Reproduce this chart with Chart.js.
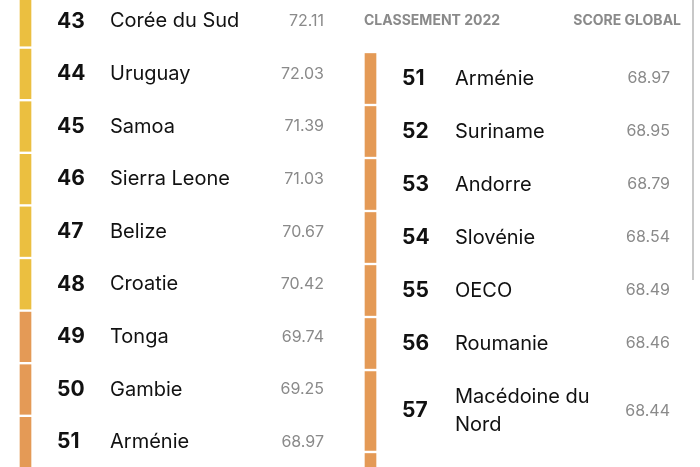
<!DOCTYPE html>
<html><head><meta charset="utf-8">
<script src="https://cdn.jsdelivr.net/npm/chart.js@4/dist/chart.umd.min.js"></script>
<style>html,body{margin:0;padding:0;background:#fff}#c{display:block}</style>
</head><body>
<div style="width:700px;height:467px"><canvas id="c"></canvas></div>
<script>
const leftRanks = [43,44,45,46,47,48,49,50,51];
const leftCountries = ["Corée du Sud","Uruguay","Samoa","Sierra Leone","Belize","Croatie","Tonga","Gambie","Arménie"];
const leftScores = [72.11,72.03,71.39,71.03,70.67,70.42,69.74,69.25,68.97];
const rightRanks = [51,52,53,54,55,56,57,58];
const rightCountries = ["Arménie","Suriname","Andorre","Slovénie","OECO","Roumanie","Macédoine du\nNord",""];
const rightScores = [68.97,68.95,68.79,68.54,68.49,68.46,68.44,null];
const headers = ["CLASSEMENT 2022","SCORE GLOBAL"];

const YEL = "#EBBF40", ORA = "#E49A56";
const colorFor = r => r <= 48 ? YEL : ORA;
const leftTop = -5, leftPitch = 52.6;
const rightTop = 52, rightPitch = 53, rightTall = 82;
const leftRows = leftRanks.map((r,i)=>({top:leftTop+i*leftPitch, h:leftPitch}));
const rightRows = []; let yy = rightTop;
rightRanks.forEach((r,i)=>{ const h = rightCountries[i].includes("\n") ? rightTall : rightPitch; rightRows.push({top:yy,h}); yy+=h; });

const gap = 3;
const leftBars = leftRanks.map((r,i)=>({x:25.5, y:[leftRows[i].top+gap/2, leftRows[i].top+leftRows[i].h-gap/2]}));
const rightBars = rightRanks.map((r,i)=>({x:370.5, y:[rightRows[i].top+gap/2, rightRows[i].top+rightRows[i].h-gap/2]}));

const textPlugin = {
  id:'txt',
  afterDatasetsDraw(chart){
    const ctx = chart.ctx, ys = chart.scales.y, xs = chart.scales.x;
    ctx.save(); ctx.textBaseline='middle';
    const drawRow = (rank,country,score,row,xr,xc,xsR)=>{
      const cy = ys.getPixelForValue(row.top+row.h/2);
      ctx.fillStyle="#111"; ctx.textAlign="left";
      ctx.font="bold 21px Inter"; ctx.fillText(rank, xs.getPixelForValue(xr), cy);
      ctx.font="20px Inter";
      const lines = country.split("\n");
      lines.forEach((l,k)=>ctx.fillText(l, xs.getPixelForValue(xc), cy + (k-(lines.length-1)/2)*28));
      if(score!==null){ctx.fillStyle="#8a8a8a"; ctx.font="16px Inter"; ctx.textAlign="right";
        ctx.fillText(score.toFixed(2), xs.getPixelForValue(xsR), cy);}
    };
    leftRanks.forEach((r,i)=>drawRow(r,leftCountries[i],leftScores[i],leftRows[i],57,110,324));
    rightRanks.forEach((r,i)=>{ if(rightCountries[i]) drawRow(r,rightCountries[i],rightScores[i],rightRows[i],402,455,670);});
    ctx.fillStyle="#8a8a8a"; ctx.font="bold 14px Inter";
    ctx.textAlign="left"; ctx.fillText(headers[0], xs.getPixelForValue(364), ys.getPixelForValue(21));
    ctx.textAlign="right"; ctx.fillText(headers[1], xs.getPixelForValue(681), ys.getPixelForValue(21));
    ctx.fillStyle="#c8c8c8"; ctx.fillRect(xs.getPixelForValue(692), ys.getPixelForValue(0), 2, 280);
    ctx.restore();
  }
};

new Chart(document.getElementById('c'),{
  type:'bar',
  data:{datasets:[
    {data:leftBars, backgroundColor:leftRanks.map(colorFor), barThickness:11},
    {data:rightBars, backgroundColor:rightRanks.map(colorFor), barThickness:11}
  ]},
  options:{
    responsive:true, maintainAspectRatio:false, animation:false,
    layout:{padding:0},
    plugins:{legend:{display:false}, tooltip:{enabled:false}},
    datasets:{bar:{grouped:false}},
    scales:{
      x:{type:'linear', min:0, max:700, offset:false, display:false},
      y:{type:'linear', min:0, max:467, reverse:true, offset:false, display:false}
    }
  },
  plugins:[textPlugin]
});
</script>
</body></html>
